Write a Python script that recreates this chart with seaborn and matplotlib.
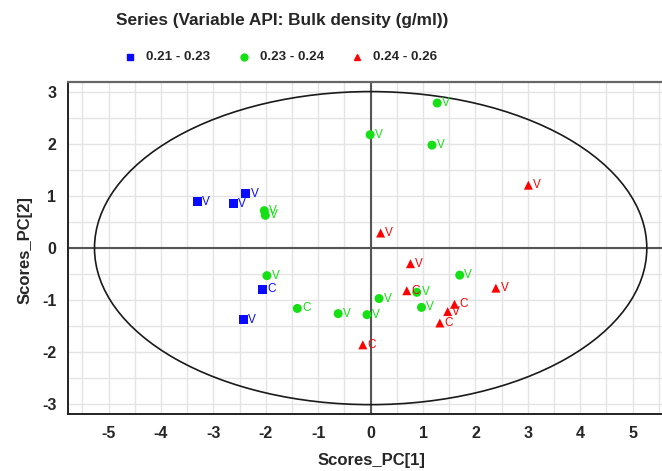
import numpy as np
import pandas as pd
import matplotlib
matplotlib.use("Agg")
import matplotlib.pyplot as plt
from matplotlib.patches import Ellipse
from matplotlib.ticker import MultipleLocator
import seaborn as sns

# Score values per bulk-density class
blue_x = [-3.30, -2.62, -2.38, -2.06, -2.43]
blue_y = [0.89, 0.85, 1.05, -0.79, -1.38]
blue_lab = ["V", "V", "V", "C", "V"]

green_x = [-2.03, -2.01, -1.98, -1.40, -0.62, -0.07, 0.16, 0.88, 0.97, 1.70, 1.27, -0.01, 1.17]
green_y = [0.72, 0.63, -0.53, -1.16, -1.26, -1.28, -0.97, -0.85, -1.14, -0.52, 2.79, 2.18, 1.98]
green_lab = ["V", "V", "V", "C", "V", "V", "V", "V", "V", "V", "V", "V", "V"]

red_x = [3.01, 0.19, 0.76, 0.69, 2.39, 1.60, 1.47, 1.32, -0.15]
red_y = [1.21, 0.29, -0.30, -0.82, -0.77, -1.08, -1.22, -1.44, -1.86]
red_lab = ["V", "V", "V", "C", "V", "C", "V", "C", "C"]

series = ["0.21 - 0.23", "0.23 - 0.24", "0.24 - 0.26"]
colors = ["#0a0aff", "#14e014", "#ff0000"]
markers = ["s", "o", "^"]

# Hotelling T2 ellipse semi-axes
ell_a, ell_b = 5.27, 3.01

df = pd.concat([
    pd.DataFrame({"x": blue_x, "y": blue_y, "lab": blue_lab, "grp": series[0]}),
    pd.DataFrame({"x": green_x, "y": green_y, "lab": green_lab, "grp": series[1]}),
    pd.DataFrame({"x": red_x, "y": red_y, "lab": red_lab, "grp": series[2]}),
], ignore_index=True)

sns.set_style("white")
plt.rcParams["font.family"] = ["Liberation Sans", "DejaVu Sans"]
plt.rcParams["font.weight"] = "bold"
plt.rcParams["axes.unicode_minus"] = False

fig = plt.figure(figsize=(6.62, 4.71), dpi=100)
ax = fig.add_axes([68.3 / 662, 57 / 471, (662 - 68.3) / 662, (414 - 81.7) / 471])

pal = dict(zip(series, colors))
mk = dict(zip(series, markers))
sns.scatterplot(data=df, x="x", y="y", hue="grp", style="grp", palette=pal,
                markers=mk, s=42, linewidth=0, ax=ax, legend=False, zorder=4)

for _, r in df.iterrows():
    ax.text(r.x + 0.09, r.y, r.lab, color=pal[r.grp], fontsize=8.5,
            fontweight="normal", va="center", ha="left", zorder=5)

ax.add_patch(Ellipse((0, 0), 2 * ell_a, 2 * ell_b, fill=False,
                     edgecolor="#1a1a1a", linewidth=1.2, zorder=3))
ax.axhline(0, color="#555555", linewidth=1.5, zorder=2)
ax.axvline(0, color="#555555", linewidth=1.5, zorder=2)

ax.set_xlim(-5.77, 5.56)
ax.set_ylim(-3.19, 3.20)
ax.xaxis.set_major_locator(MultipleLocator(1))
ax.xaxis.set_minor_locator(MultipleLocator(0.5))
ax.yaxis.set_major_locator(MultipleLocator(1))
ax.yaxis.set_minor_locator(MultipleLocator(0.5))
ax.grid(True, which="both", color="#e4e4e4", linewidth=1, zorder=0)
ax.set_axisbelow(True)
ax.tick_params(which="both", direction="inout", length=5, width=1.2,
               color="#222222", labelsize=11.5, pad=6)
for lbl in ax.get_xticklabels() + ax.get_yticklabels():
    lbl.set_fontweight("bold")

ax.spines["left"].set_color("#222222")
ax.spines["bottom"].set_color("#222222")
ax.spines["left"].set_linewidth(1.4)
ax.spines["bottom"].set_linewidth(1.4)
ax.spines["top"].set_color("#666666")
ax.spines["top"].set_linewidth(1.6)
ax.spines["right"].set_visible(False)

ax.set_xlabel("")
ax.set_ylabel("")
fig.text(371 / 662, 1 - 460 / 471, "Scores_PC[1]", ha="center", va="center",
         fontsize=12, fontweight="bold")
fig.text(25 / 662, 1 - 250 / 471, "Scores_PC[2]", ha="center", va="center",
         rotation=90, fontsize=12, fontweight="bold")

fig.text(282 / 662, 1 - 20 / 471, "Series (Variable API: Bulk density (g/ml))",
         ha="center", va="center", fontsize=12.4, fontweight="bold")

# Legend row
leg_x = [130, 244, 357]
for lx, s, c, m in zip(leg_x, series, colors, markers):
    fig.lines.append(plt.Line2D([lx / 662], [1 - 57 / 471], transform=fig.transFigure,
                                marker=m, color=c, markersize=5, linestyle="none"))
    fig.text((lx + 16) / 662, 1 - 57 / 471, s, ha="left", va="center",
             fontsize=9.6, fontweight="bold")

fig.savefig("out.png", dpi=100)
